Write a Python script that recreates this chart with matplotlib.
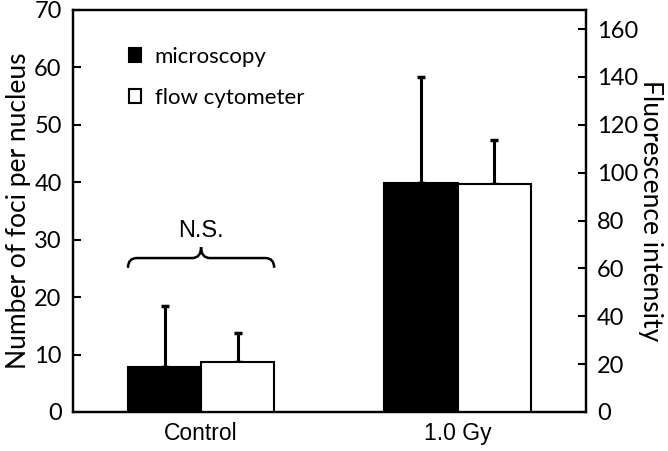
import matplotlib.pyplot as plt
from matplotlib.path import Path
from matplotlib.patches import PathPatch

groups = ['Control', '1.0 Gy']
micro_mean = [7.8, 39.8]
micro_err = [10.7, 18.6]
flow_mean = [20.8, 95.3]
flow_err = [12.3, 18.2]

plt.rcParams['font.family'] = ['Lato', 'DejaVu Sans']

fig = plt.figure(figsize=(6.68, 4.51), dpi=100)
ax = fig.add_axes([0.109, 0.0865, 0.768, 0.8915])
ax2 = ax.twinx()

w = 0.285
x = [0, 1]
xm = [i - w / 2 for i in x]
xf = [i + w / 2 for i in x]

ax.bar(xm, micro_mean, w, color='black', edgecolor='black', linewidth=1.5,
       label='microscopy', zorder=2)
ax.errorbar(xm, micro_mean, yerr=[[0, 0], micro_err], fmt='none', ecolor='black',
            elinewidth=2.2, capsize=3, capthick=2.5, zorder=1)
ax2.bar(xf, flow_mean, w, color='white', edgecolor='black', linewidth=1.5,
        label='flow cytometer', zorder=2)
ax2.errorbar(xf, flow_mean, yerr=[[0, 0], flow_err], fmt='none', ecolor='black',
             elinewidth=2.2, capsize=3, capthick=2.5, zorder=1)

ax.set_xlim(-0.5, 1.5)
ax.set_ylim(0, 70)
ax2.set_ylim(0, 168)
ax.set_yticks(range(0, 71, 10))
ax2.set_yticks(range(0, 161, 20))
ax.set_xticks(x)
ax.set_xticklabels(groups, family=['Liberation Sans'], fontsize=16.5)
ax.tick_params(axis='x', length=0, pad=7)
ax.tick_params(axis='y', direction='in', length=6, width=1.5, labelsize=17, pad=8)
ax2.tick_params(axis='y', direction='in', length=6, width=1.5, labelsize=17, pad=8)
for a in (ax, ax2):
    for s in a.spines.values():
        s.set_linewidth(1.6)

ax.set_ylabel('Number of foci per nucleus', fontsize=19, labelpad=2)
ax2.set_ylabel('Fluorescence intensity', fontsize=19, rotation=270, labelpad=18)

# brace over control group
x0, x1 = xm[0] - w / 2, xf[0] + w / 2
xc = (x0 + x1) / 2
yl, ye, yt, d = 26.8, 25.1, 28.7, 0.035
verts = [(x0, ye), (x0, yl), (x0 + d, yl), (xc - d, yl), (xc, yl), (xc, yt),
         (xc, yl), (xc + d, yl), (x1 - d, yl), (x1, yl), (x1, ye)]
codes = [Path.MOVETO, Path.CURVE3, Path.CURVE3, Path.LINETO, Path.CURVE3, Path.CURVE3,
         Path.CURVE3, Path.CURVE3, Path.LINETO, Path.CURVE3, Path.CURVE3]
ax.add_patch(PathPatch(Path(verts, codes), fill=False, lw=1.8, color='black'))
ax.text(xc, 29.6, 'N.S.', ha='center', va='bottom', fontsize=17,
        family=['Liberation Sans'])

h1, l1 = ax.get_legend_handles_labels()
h2, l2 = ax2.get_legend_handles_labels()
ax2.legend(h1 + h2, l1 + l2, loc='upper left', bbox_to_anchor=(0.07, 0.958),
           frameon=False, fontsize=16, handlelength=0.56, handleheight=0.56,
           handletextpad=0.6, labelspacing=0.95)

fig.savefig('out.png', dpi=100)
